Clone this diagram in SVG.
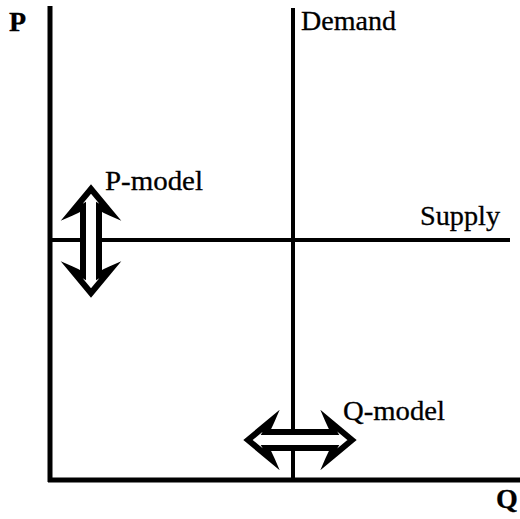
<svg xmlns="http://www.w3.org/2000/svg" width="520" height="519" viewBox="0 0 520 519">
<style>
.ax{stroke:#000;stroke-width:5;fill:none}
.ln{stroke:#000;stroke-width:4;fill:none}
.t{font-family:'Liberation Serif','Times New Roman',Times,serif;font-size:28px;fill:#000;stroke:#000;stroke-width:0.3}
.b{font-weight:bold}
.arr{fill:#fff;stroke:#000;stroke-width:6;stroke-linejoin:miter;stroke-miterlimit:10}
</style>
<defs>
<path id="dbl" d="M52,0 L28,-20 Q31,-13 34,-8 L-34,-8 Q-31,-13 -28,-20 L-52,0 L-28,20 Q-31,13 -34,8 L34,8 Q31,13 28,20 Z"/>
</defs>
<rect width="520" height="519" fill="#fff"/>
<g id="connectors">
<line class="ax" x1="50" y1="6" x2="50" y2="482"/>
<line class="ax" x1="48" y1="480" x2="520" y2="480"/>
<line class="ln" x1="293" y1="8" x2="293" y2="480"/>
<line class="ln" x1="50" y1="240" x2="510" y2="240"/>
</g>
<g id="axis-p"><text class="t b" x="9" y="31">P</text></g>
<g id="axis-q"><text class="t b" x="496" y="508">Q</text></g>
<g id="demand"><text class="t" x="301" y="30" textLength="95" lengthAdjust="spacingAndGlyphs">Demand</text></g>
<g id="supply"><text class="t" x="420" y="225" textLength="80" lengthAdjust="spacingAndGlyphs">Supply</text></g>
<g id="p-model">
<use href="#dbl" class="arr" transform="translate(91,241) rotate(90)"/>
<text class="t" x="105" y="190" textLength="98" lengthAdjust="spacingAndGlyphs">P-model</text>
</g>
<g id="q-model">
<use href="#dbl" class="arr" transform="translate(300,440)"/>
<text class="t" x="343" y="420" textLength="102" lengthAdjust="spacingAndGlyphs">Q-model</text>
</g>
</svg>
